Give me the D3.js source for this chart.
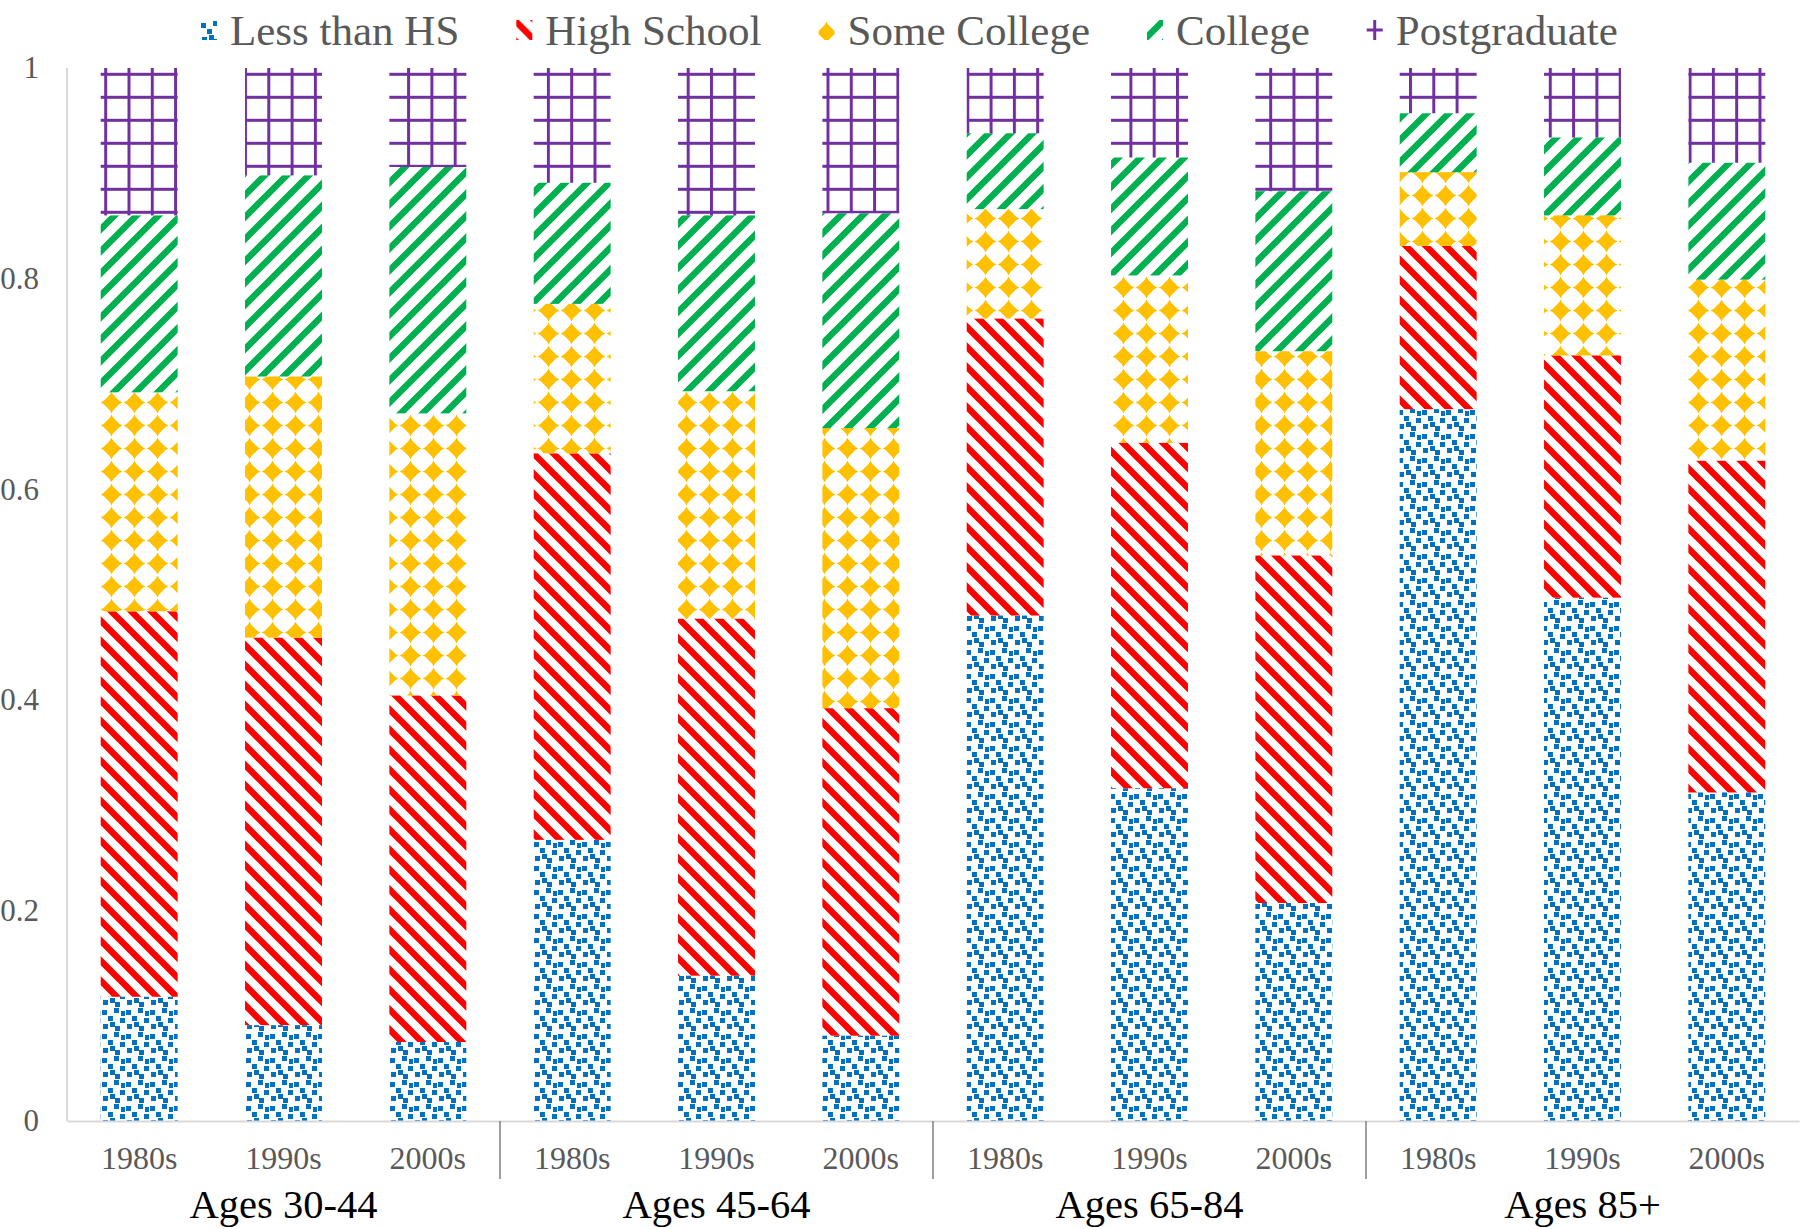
<!DOCTYPE html>
<html>
<head>
<meta charset="utf-8">
<script src="https://cdn.jsdelivr.net/npm/d3@7"></script>
<style>
  html, body { margin: 0; padding: 0; background: #fff; }
  svg { display: block; }
  svg text { font-family: "Liberation Serif", "Times New Roman", serif !important; }
</style>
</head>
<body>
<svg id="chart" width="1800" height="1229"></svg>
<script>
// ---- data ----
const groups = ["Ages 30-44", "Ages 45-64", "Ages 65-84", "Ages 85+"];
const decades = ["1980s", "1990s", "2000s"];
const seriesNames = ["Less than HS", "High School", "Some College", "College", "Postgraduate"];
const yTickValues = [0, 0.2, 0.4, 0.6, 0.8, 1];
const yTickLabels = ["0", "0.2", "0.4", "0.6", "0.8", "1"];
// shares per bar, order: group1(1980s,1990s,2000s), group2(...), ...
const lessThanHS  = [0.118, 0.091, 0.075, 0.267, 0.138, 0.081, 0.480, 0.316, 0.207, 0.676, 0.497, 0.312];
const highSchool  = [0.366, 0.368, 0.329, 0.367, 0.339, 0.311, 0.282, 0.328, 0.330, 0.155, 0.230, 0.315];
const someCollege = [0.208, 0.248, 0.268, 0.142, 0.216, 0.266, 0.104, 0.159, 0.194, 0.070, 0.133, 0.172];
const college     = [0.168, 0.191, 0.234, 0.115, 0.167, 0.204, 0.072, 0.112, 0.152, 0.056, 0.074, 0.111];
const postgrad    = [0.140, 0.102, 0.094, 0.109, 0.140, 0.138, 0.062, 0.085, 0.117, 0.043, 0.066, 0.090];

// ---- build table ----
const seriesValues = [lessThanHS, highSchool, someCollege, college, postgrad];
const rows = [];
groups.forEach((g, gi) => decades.forEach((d, di) => {
  const idx = gi * decades.length + di;
  const row = { key: idx, group: g, decade: d };
  seriesNames.forEach((s, si) => row[s] = seriesValues[si][idx]);
  rows.push(row);
}));

const colors = ["#0070C0", "#FF0000", "#FFC000", "#00B050", "#7030A0"];
const FONT = "'Liberation Serif','Times New Roman',serif";

const svg = d3.select("#chart");
const margin = { left: 67, right: 1799, top: 68, bottom: 1121 };

const x = d3.scaleBand()
  .domain(rows.map(r => r.key))
  .range([margin.left, margin.right])
  .paddingInner(0.467)
  .paddingOuter(0.2335);

const y = d3.scaleLinear().domain([0, 1]).range([margin.bottom, margin.top]);

// ---- patterns ----
const defs = svg.append("defs");
function makePatterns(prefix, offs) {
  // Less than HS : confetti squares
  const p0 = defs.append("pattern").attr("id", prefix + "0").attr("patternUnits", "userSpaceOnUse")
    .attr("width", 24).attr("height", 24).attr("x", offs[0][0]).attr("y", offs[0][1]);
  [[1, 2], [13, 0], [7, 8], [19, 10], [2, 16], [14, 18], [9, 14], [20, 3]].forEach(([a, b]) =>
    p0.append("rect").attr("x", a).attr("y", b).attr("width", 5).attr("height", 5).attr("fill", colors[0]));
  // High school : "\" stripes
  const p1 = defs.append("pattern").attr("id", prefix + "1").attr("patternUnits", "userSpaceOnUse")
    .attr("width", 20).attr("height", 20).attr("x", offs[1][0]).attr("y", offs[1][1]);
  p1.append("path").attr("d", "M-5,-5 L25,25 M-15,5 L5,25 M15,-5 L35,15")
    .attr("stroke", colors[1]).attr("stroke-width", 6.5).attr("fill", "none");
  // Some college : diamonds
  const p2 = defs.append("pattern").attr("id", prefix + "2").attr("patternUnits", "userSpaceOnUse")
    .attr("width", 23).attr("height", 23).attr("x", offs[2][0]).attr("y", offs[2][1]);
  p2.append("path").attr("d", "M11.5,0.5 L13,3.5 L19.5,10 L22.5,11.5 L19.5,13 L13,19.5 L11.5,22.5 L10,19.5 L3.5,13 L0.5,11.5 L3.5,10 L10,3.5 Z")
    .attr("fill", colors[2]);
  // College : "/" stripes
  const p3 = defs.append("pattern").attr("id", prefix + "3").attr("patternUnits", "userSpaceOnUse")
    .attr("width", 22).attr("height", 22).attr("x", offs[3][0]).attr("y", offs[3][1]);
  p3.append("path").attr("d", "M-5,27 L27,-5 M-11,11 L11,-11 M11,33 L33,11")
    .attr("stroke", colors[3]).attr("stroke-width", 6.5).attr("fill", "none");
  // Postgraduate : grid
  const p4 = defs.append("pattern").attr("id", prefix + "4").attr("patternUnits", "userSpaceOnUse")
    .attr("width", 23.3).attr("height", 23).attr("x", offs[4][0]).attr("y", offs[4][1]);
  p4.append("path").attr("d", "M1.5,0 V23 M0,1.5 H23.3")
    .attr("stroke", colors[4]).attr("stroke-width", 3).attr("fill", "none");
}
makePatterns("pat", [[101, 0], [0, 0], [100, 0], [0, 0], [104.2, 72.8]]);

// ---- axes lines ----
svg.append("line").attr("x1", margin.left).attr("x2", margin.left)
  .attr("y1", y(1)).attr("y2", y(0)).attr("stroke", "#D9D9D9").attr("stroke-width", 2);

// ---- stacked bars ----
const stack = d3.stack().keys(seriesNames);
const stacked = stack(rows);
svg.append("g").selectAll("g").data(stacked).join("g")
  .attr("fill", (d, i) => `url(#pat${i})`)
  .selectAll("rect").data(d => d).join("rect")
  .attr("x", d => x(d.data.key))
  .attr("width", x.bandwidth())
  .attr("y", d => y(d[1]))
  .attr("height", d => y(d[0]) - y(d[1]));

// ---- y axis ----
const yAxis = d3.axisLeft(y).tickValues(yTickValues)
  .tickFormat((d, i) => yTickLabels[i]).tickSize(0).tickPadding(28);
const yg = svg.append("g").attr("transform", `translate(${margin.left},0)`).call(yAxis);
yg.attr("font-family", FONT);
yg.select(".domain").remove();
yg.selectAll("text").attr("font-family", FONT)
  .attr("font-size", 31).attr("fill", "#595959");

// ---- x axis (decades) ----
const xAxis = d3.axisBottom(x).tickFormat(k => rows[k].decade).tickSize(0).tickPadding(25);
const xg = svg.append("g").attr("transform", `translate(0,${margin.bottom})`).call(xAxis);
xg.attr("font-family", FONT);
xg.select(".domain").attr("stroke", "#D9D9D9").attr("stroke-width", 2);
xg.selectAll("text").attr("font-family", FONT)
  .attr("font-size", 32).attr("fill", "#595959");

// ---- group separators and labels ----
const step = x.step();
groups.forEach((g, gi) => {
  const firstKey = gi * decades.length;
  const lastKey = firstKey + decades.length - 1;
  const left = x(firstKey) - step * x.paddingOuter();
  const right = x(lastKey) + x.bandwidth() + step * x.paddingOuter();
  if (gi > 0) {
    svg.append("line").attr("x1", left).attr("x2", left)
      .attr("y1", margin.bottom).attr("y2", margin.bottom + 58)
      .attr("stroke", "#808080").attr("stroke-width", 1.5);
  }
  svg.append("text").attr("x", (left + right) / 2).attr("y", 1218)
    .attr("text-anchor", "middle").attr("font-family", FONT)
    .attr("font-size", 40.5).attr("fill", "#000")
    .text(g);
});

// ---- legend ----
const legend = svg.append("g");
let lx = 201;
const swW = 16, swH = 20, swY = 20;
seriesNames.forEach((s, i) => {
  const sw = legend.append("rect").attr("x", lx).attr("y", swY).attr("width", swW).attr("height", swH);
  const t = legend.append("text").attr("x", lx + 29).attr("y", 45)
    .attr("font-family", FONT)
    .attr("font-size", 43).attr("fill", "#595959").text(s);
  sw.attr("data-x", lx);
  lx += 29 + t.node().getComputedTextLength() + 57;
});
// legend-specific pattern offsets so each swatch shows a characteristic piece
const swX = legend.selectAll("rect").nodes().map(n => +n.getAttribute("data-x"));
makePatterns("leg", [
  [swX[0] - 1, swY + 1],
  [swX[1] - 2, swY],
  [swX[2] - 3.5, swY + 1],
  [swX[3] - 3, swY - 2],
  [swX[4] + swW / 2 - 1.5, swY + swH / 2 - 1.5]
]);
legend.selectAll("rect").attr("fill", (d, i) => `url(#leg${i})`);
</script>
</body>
</html>
